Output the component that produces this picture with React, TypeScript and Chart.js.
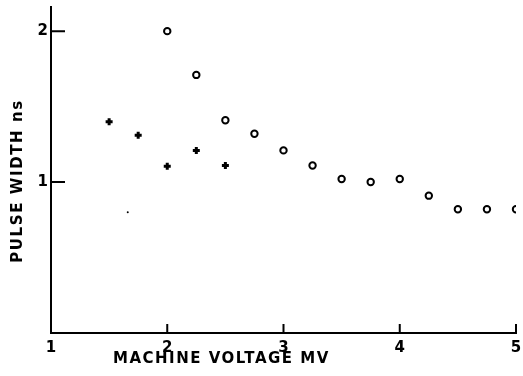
import React, { useEffect, useRef } from "react";
import { Chart, registerables } from "chart.js";
Chart.register(...registerables);

const circleX = [2, 2.25, 2.5, 2.75, 3, 3.25, 3.5, 3.75, 4, 4.25, 4.5, 4.75, 5];
const circleY = [2.0, 1.71, 1.41, 1.32, 1.21, 1.11, 1.02, 1.0, 1.02, 0.91, 0.82, 0.82, 0.82];
const crossX = [1.5, 1.75, 2, 2.25, 2.5];
const crossY = [1.4, 1.31, 1.105, 1.21, 1.11];
const dotX = [1.66];
const dotY = [0.8];
const xTicks = [1, 2, 3, 4, 5];
const yTicks = [1, 2];
const xTitle = "MACHINE VOLTAGE MV";
const yTitle = "PULSE WIDTH ns";

const FONT = "'DejaVu Sans', sans-serif";

const innerTicks = {
  id: "innerTicks",
  afterDraw(chart: any) {
    const ctx = chart.ctx;
    const xs = chart.scales.x;
    const ys = chart.scales.y;
    const area = chart.chartArea;
    ctx.save();
    ctx.strokeStyle = "#000";
    ctx.lineWidth = 2;
    ctx.beginPath();
    xTicks.forEach((v) => {
      if (v === 1) return;
      const px = xs.getPixelForValue(v);
      ctx.moveTo(px, area.bottom);
      ctx.lineTo(px, area.bottom - 9);
    });
    yTicks.forEach((v) => {
      const py = ys.getPixelForValue(v);
      ctx.moveTo(area.left, py);
      ctx.lineTo(area.left + 14, py);
    });
    ctx.stroke();
    ctx.fillStyle = "#000";
    ctx.font = `bold 15px ${FONT}`;
    ctx.textBaseline = "middle";
    ctx.textAlign = "left";
    (ctx as any).letterSpacing = "1.5px";
    ctx.fillText(xTitle, area.left + 62, area.bottom + 26);
    (ctx as any).letterSpacing = "1.6px";
    ctx.translate(18, (area.top + area.bottom) / 2 + 11);
    ctx.rotate(-Math.PI / 2);
    ctx.textAlign = "center";
    ctx.fillText(yTitle, 0, 0);
    ctx.restore();
  },
};

export default function App() {
  const ref = useRef<HTMLCanvasElement>(null);
  useEffect(() => {
    document.body.style.margin = "0";
    const chart = new Chart(ref.current!, {
      type: "scatter",
      data: {
        datasets: [
          {
            data: circleX.map((x, i) => ({ x, y: circleY[i] })),
            pointStyle: "circle",
            pointRadius: 3.2,
            borderWidth: 2,
            borderColor: "#000",
            backgroundColor: "#fff",
          },
          {
            data: crossX.map((x, i) => ({ x, y: crossY[i] })),
            pointStyle: "cross",
            pointRadius: 3.5,
            borderWidth: 3,
            borderColor: "#000",
            backgroundColor: "#000",
          },
          {
            data: dotX.map((x, i) => ({ x, y: dotY[i] })),
            pointStyle: "circle",
            pointRadius: 1,
            borderWidth: 0,
            backgroundColor: "#000",
          },
        ],
      },
      options: {
        animation: false,
        responsive: false,
        layout: { padding: { top: 7, right: 6, left: 0, bottom: 0 } },
        plugins: { legend: { display: false }, tooltip: { enabled: false } },
        scales: {
          x: {
            type: "linear",
            min: 1,
            max: 5,
            afterFit: (s: any) => { s.height = 43; s.paddingLeft = 0; s.paddingRight = 0; },
            afterBuildTicks: (s: any) => { s.ticks = xTicks.map((v) => ({ value: v })); },
            grid: { display: false, drawTicks: false },
            border: { display: true, color: "#000", width: 2 },
            ticks: {
              color: "#000",
              padding: 6,
              font: { family: FONT, size: 15, weight: "bold" },
              callback: (v: any) => String(v),
            },
          },
          y: {
            type: "linear",
            min: 0,
            max: 2.16,
            afterFit: (s: any) => { s.width = 51; s.paddingTop = 0; s.paddingBottom = 0; },
            afterBuildTicks: (s: any) => { s.ticks = yTicks.map((v) => ({ value: v })); },
            grid: { display: false, drawTicks: false },
            border: { display: true, color: "#000", width: 2 },
            ticks: {
              color: "#000",
              padding: 3,
              font: { family: FONT, size: 15, weight: "bold" },
              callback: (v: any) => String(v),
            },
          },
        },
      },
      plugins: [innerTicks],
    });
    return () => chart.destroy();
  }, []);
  return <canvas ref={ref} width={523} height={376} />;
}
